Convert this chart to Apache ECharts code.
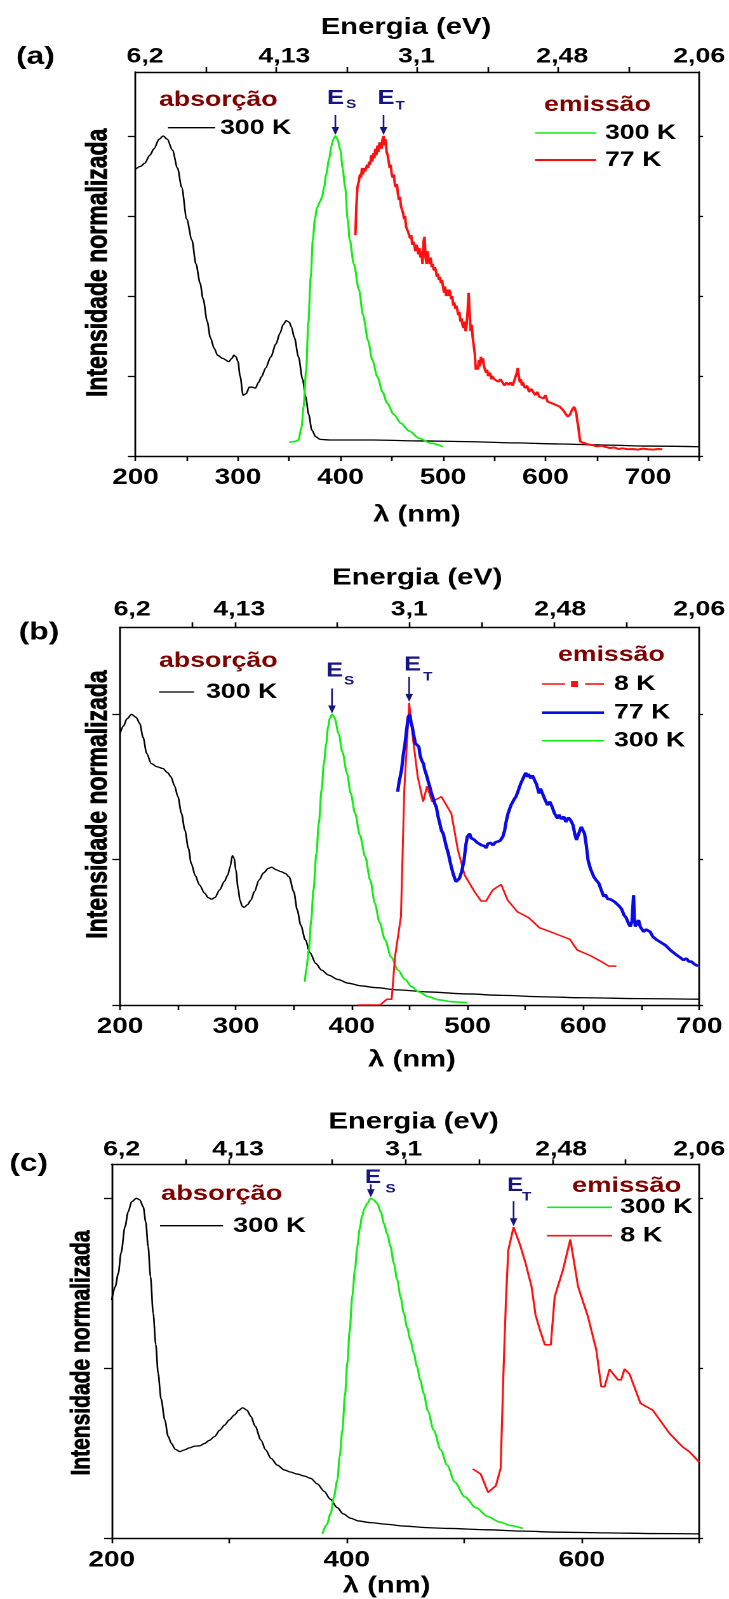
<!DOCTYPE html>
<html>
<head>
<meta charset="utf-8">
<script src="https://cdn.jsdelivr.net/npm/echarts@6/dist/echarts.min.js"></script>
<style>
html,body{margin:0;padding:0;background:#fff;overflow:hidden;}
#c{width:574px;height:1599px;transform:scaleX(1.27);transform-origin:0 0;}
</style>
</head>
<body>
<div id="c"></div>
<script>
// ---------------- DATA ----------------
// Panel (a)
const absA = [[200,0.896],[205,0.905],[209,0.915],[214,0.94],[218,0.96],[223,0.99],[227,1.0],[231,0.99],[236,0.956],[241,0.9],[245,0.84],[250,0.74],[255,0.675],[259,0.6],[263,0.54],[266,0.49],[270,0.42],[273,0.37],[277,0.335],[280,0.315],[285,0.305],[291,0.295],[294,0.305],[296,0.315],[298,0.31],[300,0.295],[302,0.25],[305,0.19],[308,0.195],[311,0.215],[314,0.215],[317,0.212],[320,0.23],[323,0.248],[327,0.275],[332,0.31],[337,0.35],[341,0.384],[344,0.41],[347,0.423],[350,0.418],[352,0.404],[355,0.37],[359,0.31],[363,0.24],[366,0.185],[369,0.13],[372,0.081],[376,0.06],[380,0.052],[390,0.05],[432,0.05],[480,0.047],[523,0.045],[570,0.041],[614,0.0375],[660,0.034],[700,0.031],[750,0.029]];
const emA300 = [[350,0.043],[355,0.045],[359,0.05],[362,0.09],[364,0.154],[366.5,0.27],[368.6,0.415],[371,0.56],[373,0.675],[375,0.74],[377,0.775],[380,0.795],[382,0.81],[384,0.84],[386,0.88],[389,0.93],[391,0.967],[393,0.99],[395,1.0],[397,0.99],[400,0.956],[402,0.9],[404.5,0.84],[407,0.74],[409,0.675],[413,0.6],[418,0.52],[422,0.44],[427,0.36],[431,0.3],[436,0.248],[441,0.2],[445.5,0.165],[452,0.13],[459,0.102],[467,0.078],[477,0.055],[488,0.04],[500,0.029]];
const emA77 = [[414.5,0.69],[415.5,0.78],[416.5,0.84],[418,0.86],[419,0.88],[420,0.87],[421,0.9],[422,0.88],[423,0.9],[424,0.89],[425,0.9],[426,0.91],[427,0.9],[428,0.92],[429,0.91],[430,0.94],[431,0.92],[432,0.946],[433,0.93],[434,0.96],[435,0.94],[436,0.97],[437,0.95],[438,0.98],[439,0.977],[440,0.96],[441,0.99],[442,1.0],[443,0.97],[444,0.99],[445,0.95],[446,0.94],[447,0.92],[448,0.9],[449,0.91],[450,0.88],[451,0.87],[452,0.88],[453,0.85],[454,0.84],[455,0.85],[456,0.82],[457,0.8],[458,0.81],[459,0.78],[460,0.77],[461,0.76],[462,0.74],[463,0.75],[464,0.716],[465,0.72],[466,0.7],[467,0.69],[468,0.68],[469,0.69],[470,0.66],[471,0.67],[472,0.66],[473,0.64],[474,0.66],[475,0.65],[476,0.63],[477,0.65],[478,0.62],[479,0.64],[480,0.6],[481,0.67],[482,0.685],[483,0.62],[484,0.6],[485,0.64],[486,0.61],[487,0.6],[488,0.62],[489,0.59],[490,0.6],[491,0.58],[492,0.59],[493,0.58],[494,0.56],[495,0.57],[496,0.55],[497,0.56],[498,0.54],[499,0.55],[500,0.53],[501,0.51],[502,0.53],[503,0.5],[504,0.52],[505,0.5],[506,0.52],[507,0.51],[508,0.49],[509,0.5],[510,0.47],[511,0.48],[512,0.46],[513,0.47],[514,0.456],[515,0.44],[516,0.45],[517,0.42],[518,0.43],[519,0.41],[520,0.40],[521,0.42],[522,0.39],[523,0.41],[524,0.45],[525,0.51],[526,0.45],[527,0.39],[528,0.41],[529,0.37],[530,0.373],[531,0.32],[532,0.27],[533,0.28],[534,0.27],[535,0.3],[536,0.28],[537,0.31],[538,0.29],[539,0.305],[540,0.28],[541,0.27],[542,0.26],[543,0.27],[544,0.25],[545,0.248],[546,0.26],[547,0.24],[548,0.25],[550,0.24],[552,0.24],[554,0.232],[556,0.24],[558,0.23],[560,0.22],[562,0.23],[564,0.222],[566,0.23],[568,0.22],[570,0.24],[572,0.26],[573,0.275],[574,0.25],[575,0.23],[576,0.24],[577,0.22],[578,0.23],[580,0.212],[582,0.22],[584,0.2],[586,0.21],[588,0.2],[590,0.19],[592,0.2],[594,0.185],[596,0.19],[598,0.18],[600,0.19],[602,0.17],[604,0.175],[606,0.165],[608,0.17],[610,0.16],[612,0.165],[614,0.154],[616,0.15],[618,0.14],[620,0.13],[622,0.123],[624,0.13],[626,0.145],[628,0.154],[629,0.15],[630,0.135],[631,0.11],[632,0.092],[633,0.065],[634,0.045],[636,0.042],[638,0.04],[640,0.037],[643,0.035],[646,0.034],[650,0.03],[655,0.032],[659,0.028],[663,0.025],[667,0.027],[671,0.022],[675,0.024],[680,0.021],[685,0.022],[690,0.02],[695,0.023],[700,0.021],[705,0.02],[710,0.022],[714,0.021]];

// Panel (b)
const absB = [[200,0.934],[203,0.96],[206,0.985],[210,1.0],[214,0.99],[217,0.969],[220,0.92],[223,0.866],[227,0.831],[232,0.82],[237,0.814],[241,0.8],[244,0.785],[247,0.755],[250,0.717],[253,0.66],[256,0.602],[259,0.54],[261.5,0.487],[265,0.445],[268.6,0.413],[273,0.385],[276,0.37],[279,0.364],[282,0.37],[286,0.396],[290,0.425],[293,0.447],[295,0.475],[297,0.514],[298.5,0.505],[300,0.464],[302,0.4],[303.5,0.361],[305.5,0.34],[307,0.336],[310,0.345],[313,0.361],[316,0.39],[320,0.43],[324,0.455],[328,0.47],[331,0.474],[335,0.465],[339,0.459],[343,0.452],[346,0.441],[350,0.39],[353,0.327],[356,0.275],[360,0.224],[364,0.18],[369,0.143],[374,0.12],[380,0.103],[388,0.088],[397,0.075],[408,0.066],[420,0.06],[440,0.052],[466,0.045],[500,0.038],[530,0.033],[566,0.028],[600,0.025],[650,0.022],[700,0.02]];
const emB300 = [[359.6,0.08],[361,0.13],[363,0.189],[365,0.29],[367,0.396],[369.5,0.52],[371.6,0.625],[374,0.74],[376,0.831],[378,0.9],[379.6,0.957],[381,0.985],[383,1.0],[385,0.99],[388.8,0.934],[392,0.87],[396,0.797],[399,0.73],[403,0.659],[407,0.585],[411.7,0.51],[416,0.43],[420,0.35],[424,0.285],[428.8,0.224],[434,0.165],[440,0.12],[446,0.088],[451.7,0.063],[458,0.045],[466,0.029],[475,0.018],[487,0.011],[500,0.008]];
const emB8 = [[405,0],[415,0],[424.5,0],[430.4,0.02],[434.5,0.02],[437.4,0.166],[442.5,0.304],[445.4,0.74],[449.6,1.04],[453,0.912],[457,0.785],[461.7,0.70],[465,0.753],[469.4,0.70],[477.4,0.717],[486,0.659],[491.7,0.533],[497.5,0.447],[506,0.39],[511.7,0.358],[516,0.358],[521.8,0.396],[529,0.415],[534.6,0.361],[543,0.321],[553,0.30],[562,0.266],[574.7,0.247],[588.4,0.226],[594.7,0.189],[606,0.17],[614.7,0.151],[621.9,0.134],[628.5,0.134]];
const emB77 = [[439.7,0.734],[441,0.77],[443,0.808],[444.5,0.86],[446,0.9],[447.5,0.95],[448.8,0.992],[450.3,1.0],[451.3,0.97],[452.3,0.957],[453.5,0.93],[455,0.9],[456.5,0.905],[458,0.889],[459,0.86],[460.3,0.843],[462,0.83],[463,0.81],[464.6,0.791],[466,0.77],[467.5,0.75],[468.9,0.728],[470.5,0.71],[472,0.69],[473,0.682],[474.5,0.65],[476,0.625],[477.5,0.6],[479,0.59],[480.3,0.568],[482,0.54],[483.5,0.52],[484.6,0.499],[486,0.475],[487.5,0.453],[489,0.435],[490,0.424],[491.5,0.42],[493,0.436],[495,0.46],[497,0.499],[498.5,0.55],[499.8,0.579],[501,0.585],[501.8,0.59],[503,0.575],[504.5,0.57],[506,0.568],[508,0.56],[510,0.565],[512,0.55],[514.7,0.547],[516,0.54],[517.5,0.555],[520,0.558],[522,0.55],[524,0.56],[526,0.554],[528,0.565],[530.4,0.579],[532,0.6],[533,0.625],[535,0.66],[537.5,0.688],[539,0.69],[540.5,0.71],[541.8,0.717],[543.5,0.735],[546,0.763],[548,0.78],[549,0.79],[550.4,0.799],[551.5,0.785],[552.5,0.795],[554.7,0.78],[556,0.79],[558,0.788],[559.5,0.76],[561.8,0.728],[563,0.745],[564.7,0.74],[566.5,0.71],[569,0.688],[571,0.7],[573,0.682],[575,0.66],[577.6,0.642],[579,0.655],[581,0.64],[583,0.648],[585,0.63],[587,0.645],[589,0.636],[591,0.62],[592.5,0.59],[594,0.568],[596,0.59],[598.2,0.613],[599.5,0.61],[601,0.59],[602.5,0.55],[604,0.499],[606,0.47],[609,0.441],[611,0.43],[613.3,0.419],[615.5,0.395],[617.6,0.373],[619,0.38],[621,0.365],[623.3,0.364],[625,0.37],[627,0.355],[629,0.355],[631,0.34],[633,0.33],[635,0.31],[637,0.3],[639,0.28],[640.5,0.27],[642,0.29],[643.3,0.378],[644,0.3],[644.8,0.27],[646,0.28],[647.6,0.292],[649,0.27],[652,0.252],[654,0.26],[657.6,0.252],[660,0.235],[663.4,0.224],[665,0.23],[667,0.215],[669,0.212],[671,0.205],[673,0.2],[675,0.189],[677,0.19],[680.5,0.172],[683,0.165],[686.3,0.155],[689,0.16],[691,0.15],[693.4,0.149],[696,0.14],[699,0.134]];

// Panel (c)
const absC = [[200,0.701],[203,0.74],[205.6,0.779],[208,0.84],[211.3,0.916],[214,0.96],[217,0.99],[221,1.0],[224,0.995],[226.8,0.975],[229,0.93],[231,0.858],[233,0.77],[235.3,0.662],[237.5,0.57],[239.5,0.485],[242,0.41],[245.2,0.348],[248,0.3],[250.8,0.279],[254,0.262],[257.9,0.255],[262,0.26],[266,0.266],[270.6,0.271],[275,0.272],[279,0.279],[283,0.288],[287.5,0.299],[292,0.318],[296,0.333],[300,0.348],[304.5,0.363],[308,0.376],[311.5,0.384],[315,0.377],[318.6,0.358],[322,0.33],[327,0.289],[331,0.26],[335.6,0.235],[341,0.215],[346.9,0.201],[352,0.195],[358,0.189],[364,0.183],[369.5,0.176],[375,0.16],[380.8,0.138],[386,0.115],[392,0.09],[397,0.072],[403.4,0.059],[410,0.051],[420,0.046],[435,0.041],[448.6,0.036],[470,0.031],[486.7,0.029],[520,0.025],[550,0.021],[580.5,0.018],[620,0.016],[660,0.014],[700,0.013]];
const emC300 = [[379.3,0.013],[383,0.04],[386.4,0.074],[389,0.12],[392,0.171],[394,0.24],[396.3,0.318],[398.5,0.42],[400.5,0.515],[402.5,0.61],[404.7,0.711],[407,0.79],[409,0.858],[411,0.91],[413,0.946],[415,0.97],[417.5,0.985],[420.3,1.0],[423,0.995],[426,0.985],[429,0.96],[431.6,0.926],[434.5,0.895],[437.3,0.858],[440,0.81],[443,0.76],[445.8,0.71],[448.6,0.662],[451.4,0.62],[454.2,0.583],[457,0.545],[459.8,0.505],[462.6,0.465],[465.5,0.426],[469,0.375],[474,0.318],[480,0.26],[485.5,0.215],[492,0.165],[500.4,0.122],[510,0.09],[520,0.064],[530,0.048],[540,0.037],[549.8,0.029]];
const emC8 = [[507.3,0.204],[514,0.189],[520.3,0.135],[527,0.155],[531,0.206],[533.5,0.5],[535.5,0.7],[537.5,0.848],[542,0.915],[547.5,0.863],[552.2,0.809],[557.3,0.74],[560.7,0.657],[564.4,0.613],[568.6,0.569],[573.7,0.569],[577,0.711],[584,0.789],[590.3,0.879],[596.9,0.74],[605.3,0.652],[612.4,0.554],[616.6,0.446],[619.5,0.446],[623.7,0.497],[630.8,0.466],[633.6,0.466],[636.4,0.498],[640.7,0.483],[650,0.397],[660.4,0.377],[674.6,0.309],[685.8,0.269],[691.5,0.255],[700,0.224]];

// Axis ticks / labels
const xLabelsA = [200,300,400,500,600,700];
const xTicksA = [200,250,300,350,400,450,500,550,600,650,700,750];
const xLabelsB = [200,300,400,500,600,700];
const xTicksB = [200,250,300,350,400,450,500,550,600,650,700];
const xLabelsC = [200,400,600];
const xTicksC = [200,300,400,500,600,700];
const yTicksA = [0,0.25,0.5,0.75,1];
const yTicksB = [0,0.5,1];
const yTicksC = [0,0.5,1];
const energyLabels = ['6,2','4,13','3,1','2,48','2,06'];
const energyLabelPosA = [0.017,0.264,0.4985,0.757,1];
const energyLabelPosB = [0.021,0.206,0.4994,0.76,1];
const energyLabelPosC = [0.017,0.215,0.497,0.765,1];
const energyTicksA = [0.125,0.25,0.375,0.5,0.625,0.75,0.875];
const energyTicksB = [0.125,0.2,0.375,0.5,0.625,0.75,0.875];
const energyTicksC = [0.125,0.2,0.375,0.5,0.625,0.75,0.875];
// peaks marked by E_S / E_T arrows [wavelength, intensity]
const peakES_A = [395,1.0], peakET_A = [442,1.0];
const peakES_B = [383,1.0], peakET_B = [449.6,1.04];
const peakES_C = [420.5,1.0], peakET_C = [542,0.915];

// ---------------- LAYOUT ----------------
const S = 1.27;
const fx = v => v / S;
const FONT = '"Liberation Sans", Arial, sans-serif';
const BLACK = '#000', GREEN = '#11ee11', RED = '#ff1010', BLUE = '#0a0ae6', DRED = '#800000', NAVY = '#141482';

const chart = echarts.init(document.getElementById('c'), null, {renderer:'canvas', devicePixelRatio:2});

const grids = [
  {left: fx(135.5), top: 72, width: fx(565.5), height: 384},
  {left: fx(120), top: 627.3, width: fx(582.7), height: 377.7},
  {left: fx(111.7), top: 1164.3, width: fx(588.3), height: 374}
];
const lineAx = {show:true, onZero:false, lineStyle:{color:BLACK, width:1.4}};
function bottomAxis(g, min, max, labels, ticks){
  return {type:'value', gridIndex:g, position:'bottom', min, max,
    axisLine: lineAx,
    axisTick:{show:true, customValues:ticks, length:5, lineStyle:{color:BLACK, width:1.3}},
    axisLabel:{customValues:labels, margin:11, fontSize:22, fontWeight:'bold', color:BLACK, fontFamily:FONT},
    splitLine:{show:false}};
}
function topAxis(g, ticks, labelPos, margin){
  return {type:'value', gridIndex:g, position:'top', min:0, max:1,
    axisLine: lineAx,
    axisTick:{show:true, customValues:ticks, length:5, lineStyle:{color:BLACK, width:1.3}},
    axisLabel:{customValues:labelPos, margin, fontSize:21, fontWeight:'bold', color:BLACK, fontFamily:FONT,
      formatter: v => { let bi=0, bd=1e9; labelPos.forEach((p,i)=>{const d=Math.abs(p-v); if(d<bd){bd=d;bi=i;}}); return energyLabels[bi]; }},
    splitLine:{show:false}};
}
function yAx(g, max, ticks, pos, len){
  return {type:'value', gridIndex:g, position:pos, min:0, max,
    axisLine: lineAx,
    axisTick:{show:true, customValues:ticks, length:len, lineStyle:{color:BLACK, width:1.3}},
    axisLabel:{show:false}, splitLine:{show:false}};
}
function ser(data, p, color, width, smooth){
  return {type:'line', data, xAxisIndex:p*2, yAxisIndex:p*2, symbol:'none', showSymbol:false,
    smooth: smooth || false, smoothMonotone:'x', lineStyle:{color, width}, animation:false, z:3};
}

const series = [
  ser(absA,0,BLACK,1.3,0.3),     //0
  ser(emA300,0,GREEN,1.6,0.3),   //1
  ser(emA77,0,RED,2.0),          //2
  ser(absB,1,BLACK,1.3,0.3),     //3
  ser(emB300,1,GREEN,1.6,0.3),   //4
  ser(emB8,1,RED,1.5),           //5
  ser(emB77,1,BLUE,2.6),         //6
  ser(absC,2,BLACK,1.3,0.3),     //7
  ser(emC300,2,GREEN,1.6,0.3),   //8
  ser(emC8,2,RED,1.6)            //9
];

chart.setOption({
  animation:false,
  backgroundColor:'#fff',
  grid: grids,
  xAxis:[
    bottomAxis(0,200,750,xLabelsA,xTicksA), topAxis(0,energyTicksA,energyLabelPosA,5),
    bottomAxis(1,200,700,xLabelsB,xTicksB), topAxis(1,energyTicksB,energyLabelPosB,7),
    bottomAxis(2,200,700,xLabelsC,xTicksC), topAxis(2,energyTicksC,energyLabelPosC,4)
  ],
  yAxis:[
    yAx(0,1.2,yTicksA,'left',6), yAx(0,1.2,yTicksA,'right',3),
    yAx(1,1.3,yTicksB,'left',6), yAx(1,1.3,yTicksB,'right',3),
    yAx(2,1.1,yTicksC,'left',6), yAx(2,1.1,yTicksC,'right',3)
  ],
  series
});

// ---------------- ANNOTATIONS ----------------
function T(xFull, y, text, size, color, align, rot){
  const el = {type:'text', x: fx(xFull), y, z:10,
    style:{text, font:`bold ${size}px ${FONT}`, fill:color||BLACK,
      textAlign: align||'left', align: align||'left', textVerticalAlign:'middle', verticalAlign:'middle'}};
  if (rot) { el.rotation = rot; el.style.stroke = color||BLACK; el.style.lineWidth = 0.6; }
  return el;
}
function L(x1, x2, y, color, w, dash){
  return {type:'line', z:10, shape:{x1:fx(x1), y1:y, x2:fx(x2), y2:y}, style:{stroke:color, lineWidth:w, lineDash: dash||null}};
}
function arrow(seriesIdx, peak, len){
  const p = chart.convertToPixel({seriesIndex:seriesIdx}, peak);
  const x = p[0], tip = p[1] - 1;
  return [
    {type:'line', z:10, shape:{x1:x, y1:tip-len, x2:x, y2:tip-6}, style:{stroke:NAVY, lineWidth:1.3}},
    {type:'polygon', z:10, shape:{points:[[x-3,tip-8],[x+3,tip-8],[x,tip]]}, style:{fill:NAVY}}
  ];
}
function E(xFull, y, sub, subX, subY, size){
  return [T(xFull, y, 'E', size||20, NAVY), T(subX, subY, sub, 12, NAVY)];
}

const g = [];
// (a)
g.push(T(16,57,'(a)',25,BLACK));
g.push(T(406,27.5,'Energia (eV)',23,BLACK,'center'));
g.push(T(417,515,'λ (nm)',23,BLACK,'center'));
g.push(T(98.6,262.8,'Intensidade normalizada',23,BLACK,'center',Math.PI/2));
g.push(T(159,100,'absorção',21,DRED));
g.push(L(168,215,127.7,BLACK,1.3)); g.push(T(220,128,'300 K',21,BLACK));
g.push(T(544,105,'emissão',21,DRED));
g.push(L(535,596,133,GREEN,1.6)); g.push(T(605,133,'300 K',21,BLACK));
g.push(L(535,596,160,RED,2)); g.push(T(605,160,'77 K',21,BLACK));
g.push(...E(327,98.5,'S',346,104.5)); g.push(...E(377.5,98.5,'T',395.5,106));
g.push(...arrow(1,peakES_A,20)); g.push(...arrow(2,peakET_A,20));
// (b)
g.push(T(18.7,632.5,'(b)',25,BLACK));
g.push(T(417.3,578,'Energia (eV)',23,BLACK,'center'));
g.push(T(412,1060,'λ (nm)',23,BLACK,'center'));
g.push(T(98.6,804.5,'Intensidade normalizada',23,BLACK,'center',Math.PI/2));
g.push(T(159,661,'absorção',21,DRED));
g.push(L(159,194,692,BLACK,1.3)); g.push(T(206,692,'300 K',21,BLACK));
g.push(T(558,655,'emissão',21,DRED));
g.push(L(542,565,684,RED,1.6)); g.push(L(585,604,684,RED,1.6));
g.push({type:'rect', z:10, shape:{x:fx(571), y:681, width:fx(7), height:6}, style:{fill:RED}});
g.push(T(614,684,'8 K',21,BLACK));
g.push(L(542,604,712.7,BLUE,2.6)); g.push(T(614,712.7,'77 K',21,BLACK));
g.push(L(542,604,740.7,GREEN,1.6)); g.push(T(614,740.7,'300 K',21,BLACK));
g.push(...E(326,671,'S',344,681)); g.push(...E(404,665,'T',423,677));
g.push(...arrow(4,peakES_B,25)); g.push(...arrow(5,peakET_B,25));
// (c)
g.push(T(9.3,1164,'(c)',25,BLACK));
g.push(T(413.6,1122,'Energia (eV)',23,BLACK,'center'));
g.push(T(386.6,1586,'λ (nm)',23,BLACK,'center'));
g.push(T(82,1353,'Intensidade normalizada',21,BLACK,'center',Math.PI/2));
g.push(T(161,1194,'absorção',21.5,DRED));
g.push(L(160,223,1225.7,BLACK,1.3)); g.push(T(233,1226,'300 K',21.5,BLACK));
g.push(T(572,1186,'emissão',21.5,DRED));
g.push(L(547,612,1207.3,GREEN,1.6)); g.push(T(620,1207.3,'300 K',21.5,BLACK));
g.push(L(547,612,1235.7,RED,1.6)); g.push(T(620,1235.7,'8 K',21.5,BLACK));
g.push(...E(365,1178,'S',385.5,1189,19)); g.push(...E(507,1186,'T',522,1197,19));
g.push(...arrow(8,peakES_C,13)); g.push(...arrow(9,peakET_C,25));

chart.setOption({graphic: g});
</script>
</body>
</html>
